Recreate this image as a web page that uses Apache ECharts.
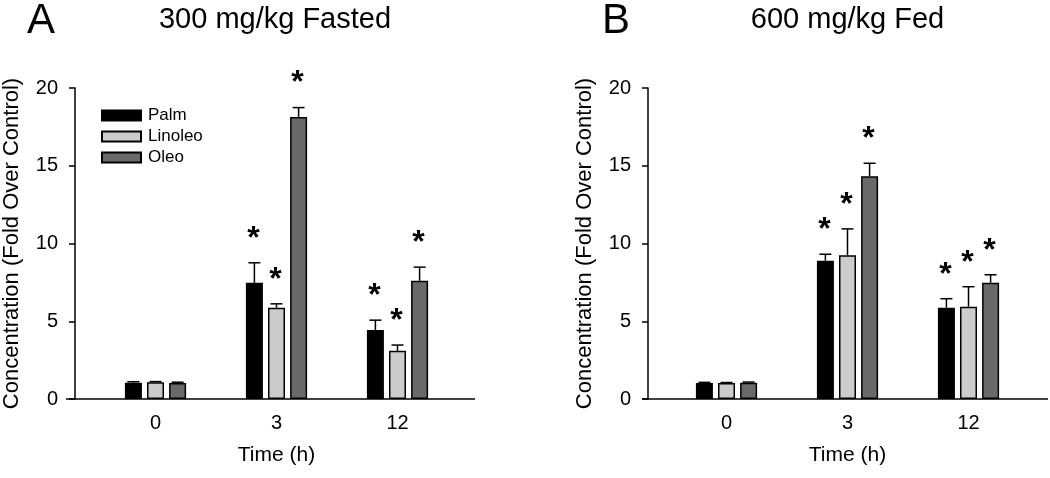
<!DOCTYPE html>
<html>
<head>
<meta charset="utf-8">
<script src="https://cdn.jsdelivr.net/npm/echarts@6/dist/echarts.min.js"></script>
<style>
  html, body { margin: 0; padding: 0; background: #fff; }
  #chart { width: 1050px; height: 478px; }
</style>
</head>
<body>
<div id="chart"></div>
<script>
// time points (h)
const categories = ['0', '3', '12'];
const seriesNames = ['Palm', 'Linoleo', 'Oleo'];
const yTicks = [0, 5, 10, 15, 20];

// A: 300 mg/kg Fasted  (mean, SEM, significance)
const palmA = [1.05, 7.47, 4.43];
const palmErrA = [0.06, 1.29, 0.64];
const palmSigA = [false, true, true];
const linoleoA = [1.07, 5.87, 3.10];
const linoleoErrA = [0.05, 0.25, 0.37];
const linoleoSigA = [false, true, true];
const oleoA = [1.03, 18.14, 7.60];
const oleoErrA = [0.05, 0.60, 0.88];
const oleoSigA = [false, true, true];

// B: 600 mg/kg Fed
const palmB = [1.03, 8.89, 5.87];
const palmErrB = [0.04, 0.42, 0.58];
const palmSigB = [false, true, true];
const linoleoB = [1.03, 9.25, 5.93];
const linoleoErrB = [0.03, 1.69, 1.29];
const linoleoSigB = [false, true, true];
const oleoB = [1.05, 14.33, 7.47];
const oleoErrB = [0.04, 0.83, 0.52];
const oleoSigB = [false, true, true];

const FONT = 'Liberation Sans, Arial, sans-serif';
const colors = ['#000000', '#cccccc', '#6a6a6a'];
const BAR_W = 17;
const BAR_GAP = 0.3;

const chart = echarts.init(document.getElementById('chart'));

// grid layout (pixels)
const grids = [
  { left: 92, top: 88, width: 366, height: 311, axisX: 72, lineEnd: 475, title: '300 mg/kg Fasted', letter: 'A', letterX: 27 },
  { left: 666, top: 88, width: 363, height: 311, axisX: 648, lineEnd: 1048, title: '600 mg/kg Fed', letter: 'B', letterX: 602 }
];

function errSeries(name, gi, si, means, errs, sigs) {
  const data = means.map((m, i) => [i, m, errs[i], sigs[i] ? 1 : 0]);
  return {
    type: 'custom',
    name: name,
    xAxisIndex: gi,
    yAxisIndex: gi,
    z: 5,
    silent: true,
    data: data,
    renderItem: function (params, api) {
      const dx = (si - 1) * BAR_W * (1 + BAR_GAP);
      const base = api.coord([api.value(0), api.value(1)]);
      const top = api.coord([api.value(0), api.value(1) + api.value(2)]);
      const x = base[0] + dx;
      const children = [
        { type: 'line', shape: { x1: x, y1: base[1], x2: x, y2: top[1] }, style: { stroke: '#000', lineWidth: 1.5 } },
        { type: 'line', shape: { x1: x - 6, y1: top[1], x2: x + 6, y2: top[1] }, style: { stroke: '#000', lineWidth: 1.5 } }
      ];
      if (api.value(3)) {
        children.push({
          type: 'text',
          style: { text: '*', x: x - 1, y: top[1] - 24, textAlign: 'center', textVerticalAlign: 'middle', font: 'bold 32px ' + FONT, fill: '#000' }
        });
      }
      return { type: 'group', children: children };
    }
  };
}

function barSeries(name, gi, si, values) {
  return {
    type: 'bar',
    name: name,
    xAxisIndex: gi,
    yAxisIndex: gi,
    barWidth: BAR_W,
    barGap: (BAR_GAP * 100) + '%',
    data: values,
    itemStyle: { color: colors[si], borderColor: '#000', borderWidth: 1.5 }
  };
}

const dataSets = [
  [[palmA, palmErrA, palmSigA], [linoleoA, linoleoErrA, linoleoSigA], [oleoA, oleoErrA, oleoSigA]],
  [[palmB, palmErrB, palmSigB], [linoleoB, linoleoErrB, linoleoSigB], [oleoB, oleoErrB, oleoSigB]]
];

const series = [];
dataSets.forEach((set, gi) => {
  set.forEach((s, si) => series.push(barSeries(seriesNames[si], gi, si, s[0])));
  set.forEach((s, si) => series.push(errSeries(seriesNames[si], gi, si, s[0], s[1], s[2])));
});

const graphic = [];
grids.forEach(g => {
  graphic.push({ type: 'text', left: g.letterX, top: 0, style: { text: g.letter, font: '42px ' + FONT, fill: '#000' } });
  graphic.push({ type: 'text', x: g.left + g.width / 2, y: 20, style: { text: g.title, font: '29px ' + FONT, fill: '#000', textAlign: 'center', textVerticalAlign: 'middle' } });
  // x axis baseline spanning from the y axis to the right end
  graphic.push({ type: 'line', shape: { x1: g.axisX - 6, y1: g.top + g.height, x2: g.lineEnd, y2: g.top + g.height }, style: { stroke: '#000', lineWidth: 1.5 } });
});

const option = {
  animation: false,
  backgroundColor: '#fff',
  textStyle: { fontFamily: FONT },
  grid: grids.map(g => ({ left: g.left, top: g.top, width: g.width, height: g.height })),
  legend: {
    data: seriesNames,
    orient: 'vertical',
    left: 96,
    top: 102,
    itemWidth: 39,
    itemHeight: 10,
    itemGap: 4,
    icon: 'rect',
    textStyle: { fontSize: 17, color: '#000', fontFamily: FONT, padding: [0, 0, 0, 2] }
  },
  xAxis: grids.map((g, gi) => ({
    type: 'category',
    gridIndex: gi,
    data: categories,
    name: 'Time (h)',
    nameLocation: 'middle',
    nameGap: 46,
    nameTextStyle: { fontSize: 21, color: '#000', fontFamily: FONT },
    axisLine: { show: false },
    axisTick: { show: false },
    axisLabel: { fontSize: 20, color: '#000', margin: 14, fontFamily: FONT }
  })),
  yAxis: grids.map((g, gi) => ({
    type: 'value',
    gridIndex: gi,
    min: yTicks[0],
    max: yTicks[yTicks.length - 1],
    interval: 5,
    offset: g.left - g.axisX,
    name: 'Concentration (Fold Over Control)',
    nameLocation: 'middle',
    nameGap: 52,
    nameTextStyle: { fontSize: 22, color: '#000', fontFamily: FONT },
    axisLine: { show: true, lineStyle: { color: '#000', width: 1.5 } },
    axisTick: { show: true, length: 6, lineStyle: { color: '#000', width: 1.5 } },
    axisLabel: { fontSize: 20, color: '#000', margin: 17, fontFamily: FONT },
    splitLine: { show: false }
  })),
  graphic: graphic,
  series: series
};

chart.setOption(option);
window.addEventListener('resize', () => chart.resize());
</script>
</body>
</html>
